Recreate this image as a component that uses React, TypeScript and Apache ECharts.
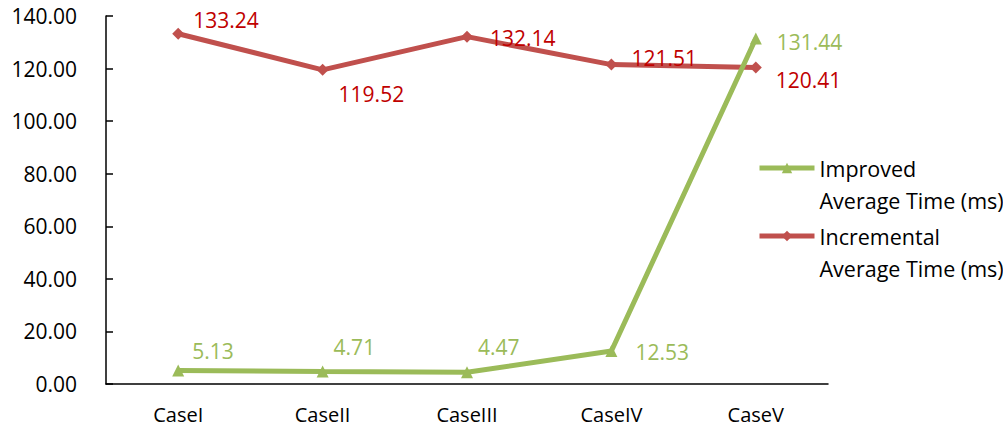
import React, { useEffect, useRef } from "react";
import * as echarts from "echarts";

const categories = ["CaseI", "CaseII", "CaseIII", "CaseIV", "CaseV"];
const improvedValues = [5.13, 4.71, 4.47, 12.53, 131.44];
const incrementalValues = [133.24, 119.52, 132.14, 121.51, 120.41];
const seriesNames = ["Improved\nAverage Time (ms)", "Incremental\nAverage Time (ms)"];

// label offsets (style only)
const improvedLabelShift = [[3, -20], [0, -25], [0, -25], [13, 1], [10, 3]];
const incrementalLabelShift = [[4, -14], [5, 24], [12, 1], [9, -7], [9, 13]];

const FONT = "'Open Sans', Lato, sans-serif";
const FS = 21;

export default function App() {
  const ref = useRef<HTMLDivElement>(null);
  useEffect(() => {
    if (!ref.current) return;
    const chart = echarts.init(ref.current, undefined, { renderer: "svg" });
    const mk = (vals: number[], shifts: number[][]) =>
      vals.map((v, i) => ({ value: v, label: { offset: shifts[i] } }));
    chart.setOption({
      animation: false,
      backgroundColor: "#fff",
      textStyle: { fontFamily: FONT },
      grid: { left: 106, right: 175, top: 16, bottom: 46 },
      legend: {
        orient: "vertical",
        left: 757,
        top: 120,
        padding: 0,
        itemWidth: 55,
        itemHeight: 13,
        itemGap: -28,
        data: seriesNames,
        formatter: (name: string) => "\n" + name,
        lineStyle: { width: 5 },
        textStyle: {
          fontFamily: FONT,
          fontSize: 21.5,
          color: "#000",
          lineHeight: 32,
        },
      },
      xAxis: {
        type: "category",
        data: categories,
        axisLine: { lineStyle: { color: "#000", width: 1.5 } },
        axisTick: { inside: true, length: 7, lineStyle: { color: "#000", width: 1.5 } },
        axisLabel: { fontFamily: FONT, fontSize: 20, color: "#000", margin: 20 },
      },
      yAxis: {
        type: "value",
        min: 0,
        max: 140,
        interval: 20,
        axisLine: { show: true, lineStyle: { color: "#000", width: 1.5 } },
        axisTick: { show: true, inside: true, length: 7, lineStyle: { color: "#000", width: 1.5 } },
        splitLine: { show: false },
        axisLabel: {
          fontFamily: FONT,
          fontSize: FS,
          color: "#000",
          margin: 29,
          formatter: (v: number) => v.toFixed(2),
        },
      },
      series: [
        {
          name: seriesNames[0],
          type: "line",
          z: 3,
          data: mk(improvedValues, improvedLabelShift),
          symbol: "triangle",
          symbolSize: 12,
          color: "#9BBB59",
          lineStyle: { width: 5, color: "#9BBB59" },
          itemStyle: { color: "#9BBB59" },
          label: {
            show: true,
            position: "right",
            fontFamily: FONT,
            fontSize: FS,
            color: "#9BBB59",
            formatter: (p: any) => p.value.toFixed(2),
          },
        },
        {
          name: seriesNames[1],
          type: "line",
          z: 2,
          data: mk(incrementalValues, incrementalLabelShift),
          symbol: "diamond",
          symbolSize: 12,
          color: "#C0504D",
          lineStyle: { width: 5, color: "#C0504D" },
          itemStyle: { color: "#C0504D" },
          label: {
            show: true,
            position: "right",
            fontFamily: FONT,
            fontSize: FS,
            color: "#C00000",
            formatter: (p: any) => p.value.toFixed(2),
          },
        },
      ],
    });
    return () => chart.dispose();
  }, []);
  return <div ref={ref} style={{ width: 1003, height: 430, position: "absolute", left: 0, top: 0 }} />;
}
